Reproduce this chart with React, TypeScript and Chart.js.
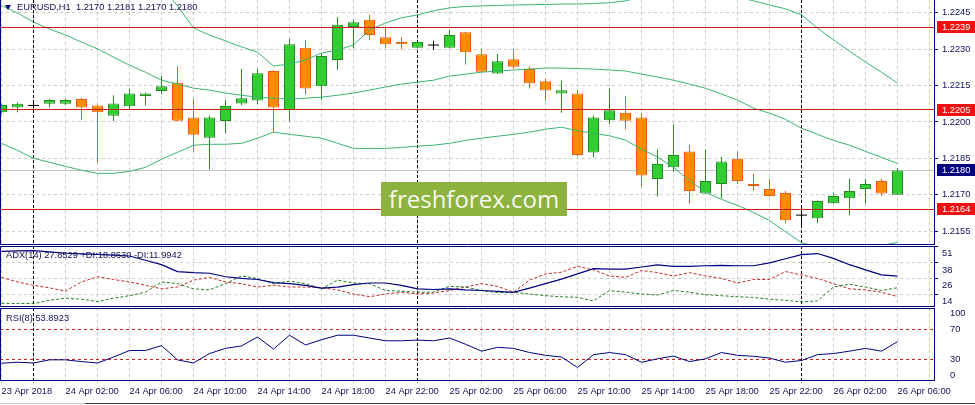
import React, { useEffect, useRef } from "react";
import { Chart, registerables } from "chart.js";

Chart.register(...registerables);

// ---------------- data ----------------
const TIME_LABELS = [
  "23 Apr 2018", "24 Apr 02:00", "24 Apr 06:00", "24 Apr 10:00", "24 Apr 14:00",
  "24 Apr 18:00", "24 Apr 22:00", "25 Apr 02:00", "25 Apr 06:00", "25 Apr 10:00",
  "25 Apr 14:00", "25 Apr 18:00", "25 Apr 22:00", "26 Apr 02:00", "26 Apr 06:00",
];

const OPEN = [
  1.22040, 1.22060, 1.22068, 1.22075, 1.22075, 1.22095, 1.22068, 1.22026, 1.22065, 1.22107,
  1.22128, 1.22161, 1.22018, 1.21935, 1.22004, 1.22076, 1.22088, 1.22210, 1.22048, 1.22306,
  1.22147, 1.22255, 1.22391, 1.22421, 1.22349, 1.22329, 1.22306, 1.22317, 1.22306, 1.22370,
  1.22279, 1.22200, 1.22258, 1.22218, 1.22168, 1.22117, 1.22117, 1.21874, 1.22007, 1.22038,
  1.22018, 1.21765, 1.21813, 1.21878, 1.21705, 1.21744, 1.21848, 1.21744, 1.21724, 1.21707,
  1.21616, 1.21603, 1.21665, 1.21686, 1.21724, 1.21757, 1.21700,
];
const HIGH = [
  1.22075, 1.22080, 1.22082, 1.22095, 1.22095, 1.22100, 1.22072, 1.22110, 1.22138, 1.22120,
  1.22189, 1.22230, 1.22096, 1.22027, 1.22090, 1.22218, 1.22217, 1.22213, 1.22342, 1.22338,
  1.22283, 1.22432, 1.22421, 1.22442, 1.22393, 1.22349, 1.22333, 1.22335, 1.22380, 1.22372,
  1.22300, 1.22280, 1.22300, 1.22230, 1.22179, 1.22170, 1.22134, 1.22027, 1.22138, 1.22107,
  1.22037, 1.21886, 1.21990, 1.21906, 1.21886, 1.21856, 1.21878, 1.21787, 1.21766, 1.21715,
  1.21657, 1.21676, 1.21708, 1.21766, 1.21766, 1.21766, 1.21810,
];
const LOW = [
  1.22035, 1.22040, 1.22055, 1.22060, 1.22070, 1.22007, 1.21834, 1.22004, 1.22053, 1.22068,
  1.22113, 1.22002, 1.21875, 1.21804, 1.21954, 1.22070, 1.22073, 1.21958, 1.22004, 1.22113,
  1.22090, 1.22214, 1.22304, 1.22338, 1.22306, 1.22300, 1.22303, 1.22297, 1.22304, 1.22237,
  1.22205, 1.22198, 1.22218, 1.22138, 1.22087, 1.22038, 1.21860, 1.21854, 1.21990, 1.21970,
  1.21734, 1.21693, 1.21795, 1.21665, 1.21705, 1.21686, 1.21744, 1.21715, 1.21693, 1.21583,
  1.21574, 1.21583, 1.21663, 1.21616, 1.21664, 1.21695, 1.21700,
];
const CLOSE = [
  1.22070, 1.22075, 1.22068, 1.22090, 1.22090, 1.22060, 1.22040, 1.22076, 1.22117, 1.22117,
  1.22147, 1.22005, 1.21947, 1.22018, 1.22066, 1.22098, 1.22201, 1.22059, 1.22320, 1.22138,
  1.22272, 1.22400, 1.22411, 1.22358, 1.22320, 1.22320, 1.22329, 1.22317, 1.22358, 1.22287,
  1.22207, 1.22250, 1.22227, 1.22159, 1.22130, 1.22131, 1.21864, 1.22018, 1.22048, 1.22005,
  1.21779, 1.21827, 1.21864, 1.21715, 1.21757, 1.21837, 1.21757, 1.21736, 1.21695, 1.21595,
  1.21616, 1.21674, 1.21695, 1.21715, 1.21744, 1.21705, 1.21800,
];

const BB_UPPER = [
  1.23048, 1.23015, 1.22974, 1.22932, 1.22899, 1.22857, 1.22814, 1.22746, 1.22672, 1.22597,
  1.22560, 1.22478, 1.22387, 1.22358, 1.22334, 1.22309, 1.22288, 1.22230, 1.22239, 1.22255,
  1.22284, 1.22296, 1.22317, 1.22379, 1.22408, 1.22429, 1.22441, 1.22458, 1.22470, 1.22476,
  1.22478, 1.22480, 1.22482, 1.22483, 1.22484, 1.22486, 1.22486, 1.22488, 1.22491, 1.22499,
  1.22515, 1.22536, 1.22544, 1.22544, 1.22540, 1.22532, 1.22515, 1.22499, 1.22482, 1.22466,
  1.22441, 1.22387, 1.22338, 1.22292, 1.22247, 1.22205, 1.22160,
];
const BB_MIDDLE = [
  1.22480, 1.22449, 1.22412, 1.22383, 1.22358, 1.22329, 1.22301, 1.22267, 1.22234, 1.22205,
  1.22172, 1.22156, 1.22139, 1.22131, 1.22119, 1.22110, 1.22102, 1.22098, 1.22094, 1.22098,
  1.22102, 1.22110, 1.22119, 1.22131, 1.22144, 1.22156, 1.22164, 1.22172, 1.22189, 1.22197,
  1.22205, 1.22210, 1.22214, 1.22218, 1.22222, 1.22222, 1.22220, 1.22218, 1.22214, 1.22210,
  1.22197, 1.22185, 1.22172, 1.22156, 1.22139, 1.22115, 1.22090, 1.22057, 1.22036, 1.22011,
  1.21974, 1.21949, 1.21924, 1.21904, 1.21879, 1.21854, 1.21829,
];
const BB_LOWER = [
  1.21912, 1.21883, 1.21850, 1.21834, 1.21817, 1.21801, 1.21788, 1.21788, 1.21796, 1.21813,
  1.21846, 1.21875, 1.21904, 1.21908, 1.21908, 1.21912, 1.21933, 1.21958, 1.21949, 1.21941,
  1.21933, 1.21912, 1.21891, 1.21891, 1.21891, 1.21895, 1.21900, 1.21904, 1.21912, 1.21924,
  1.21933, 1.21941, 1.21949, 1.21958, 1.21970, 1.21978, 1.21964, 1.21953, 1.21943, 1.21925,
  1.21888, 1.21855, 1.21813, 1.21759, 1.21710, 1.21681, 1.21656, 1.21627, 1.21594, 1.21548,
  1.21502, 1.21485, 1.21475, 1.21470, 1.21475, 1.21490, 1.21504,
];

const ADX = [
  46.8, 47.2, 47.5, 46.5, 45.4, 45.0, 44.6, 44.0, 43.3, 40.0,
  36.6, 31.3, 30.5, 30.0, 27.3, 26.0, 25.2, 22.8, 22.0, 20.7,
  18.5, 19.3, 21.2, 22.5, 22.5, 20.7, 18.0, 17.5, 18.0, 17.2,
  16.7, 16.1, 15.3, 18.6, 22.0, 25.5, 29.5, 33.5, 33.2, 33.2,
  34.8, 36.4, 35.3, 35.3, 35.8, 36.1, 35.8, 35.8, 38.0, 41.2,
  44.4, 45.2, 41.5, 36.6, 32.6, 28.7, 27.85,
];
const PLUS_DI = [
  6.85, 6.7, 6.6, 9.2, 10.8, 10.0, 8.2, 10.8, 12.7, 15.4,
  23.3, 22.0, 18.0, 17.2, 22.0, 27.9, 26.0, 22.0, 23.9, 22.0,
  18.0, 24.7, 22.5, 22.0, 16.7, 16.2, 15.4, 15.4, 19.9, 19.4,
  16.7, 15.1, 15.4, 14.0, 12.7, 11.9, 11.4, 8.7, 16.7, 15.4,
  14.0, 13.2, 16.7, 15.4, 13.5, 12.7, 11.9, 11.4, 10.0, 9.2,
  7.9, 8.7, 19.4, 21.5, 19.4, 16.7, 18.86,
];
const MINUS_DI = [
  26.8, 23.3, 20.7, 18.8, 16.2, 23.3, 27.3, 25.2, 23.3, 20.7,
  18.0, 19.4, 24.7, 26.8, 23.3, 22.0, 19.4, 20.7, 19.4, 19.4,
  18.8, 17.2, 14.0, 11.9, 14.0, 15.4, 14.0, 14.8, 16.7, 19.4,
  22.0, 19.9, 15.4, 24.7, 29.5, 30.8, 35.3, 32.6, 27.9, 26.8,
  32.1, 30.5, 27.9, 30.5, 27.9, 26.0, 22.5, 25.2, 25.2, 31.3,
  28.7, 26.0, 22.0, 18.0, 17.2, 15.4, 12.0,
];
const RSI = [
  24.3, 25.7, 24.7, 29.0, 29.0, 26.6, 24.7, 32.8, 41.8, 41.8,
  48.5, 29.0, 24.7, 37.6, 44.7, 48.0, 60.3, 43.7, 62.7, 49.4,
  56.5, 62.7, 62.7, 58.9, 55.1, 55.1, 56.1, 55.1, 58.9, 50.4,
  40.9, 46.1, 44.7, 39.0, 35.2, 32.8, 18.6, 36.1, 39.0, 36.1,
  25.7, 30.4, 34.2, 26.6, 30.4, 39.0, 35.2, 33.8, 31.4, 25.7,
  28.1, 36.1, 37.6, 40.9, 44.7, 40.9, 53.9,
];

const PRICE_TICKS = [1.2155, 1.2170, 1.2185, 1.2200, 1.2215, 1.2230, 1.2245];
const RED_LEVELS = [1.2239, 1.2205, 1.2164];
const LAST_PRICE = 1.2180;
const ADX_TICKS = [51, 38, 26, 14];
const RSI_TICKS = [100, 70, 30, 0];
const RSI_LEVELS = [70, 30];
const SEPARATOR_BARS = [2, 26, 50];
const BARS_PER_LABEL = 4;
const BARS_PER_GRID = 2;

// ---------------- view settings ----------------
const X_MIN = -0.09375;
const X_MAX = 58.34375;
const Y_MIN = 1.214929;
const Y_MAX = 1.225025;
const ADX_MIN = 4;
const ADX_MAX = 51;

const FONT = "'Liberation Sans', Arial, sans-serif";
const FONT_SIZE = 9.3;
const NAVY = "#000080";
const TEXT = "#10105a";
const GRID = "#cdcdcd";
const UP_FILL = "#32cd32";
const UP_LINE = "#228b22";
const DOWN_FILL = "#ff8c00";
const DOWN_LINE = "#ea5c14";
const BAND = "#3cb371";
const RED_LINE = "#d01818";
const RSI_LEVEL = "#d02020";
const RED_BOX = "#ee1111";
const LAST_LINE = "#c4c4c4";

const IDX = OPEN.map((_, i) => i);
const isDoji = (i: number) => OPEN[i] === CLOSE[i];
const isUp = (i: number) => CLOSE[i] > OPEN[i];
const BODY_IDX = IDX.filter((i) => !isDoji(i));
const DOJI_IDX = IDX.filter((i) => isDoji(i));
const GRID_BARS: number[] = [];
for (let b = 0; b <= X_MAX; b += BARS_PER_GRID) GRID_BARS.push(b);

const series = (arr: number[]) => arr.map((y, x) => ({ x, y }));

// ---------------- plugins ----------------
const separatorsPlugin = {
  id: "separators",
  beforeDatasetsDraw(chart: any) {
    const { ctx, chartArea: a, scales } = chart;
    ctx.save();
    ctx.strokeStyle = "#000";
    ctx.lineWidth = 1;
    ctx.setLineDash([3, 2]);
    for (const b of SEPARATOR_BARS) {
      const px = Math.round(scales.x.getPixelForValue(b) - 0.5) + 0.5;
      ctx.beginPath();
      ctx.moveTo(px, a.top);
      ctx.lineTo(px, a.bottom);
      ctx.stroke();
    }
    ctx.restore();
  },
};

const makeFrame = (top: boolean) => ({
  id: "frame",
  afterDraw(chart: any) {
    const { ctx, chartArea: a } = chart;
    ctx.save();
    ctx.strokeStyle = NAVY;
    ctx.lineWidth = 1;
    ctx.setLineDash([]);
    ctx.beginPath();
    ctx.moveTo(a.left + 0.5, a.top);
    ctx.lineTo(a.left + 0.5, a.bottom);
    ctx.moveTo(a.right - 0.5, a.top);
    ctx.lineTo(a.right - 0.5, a.bottom);
    ctx.moveTo(a.left, a.bottom - 0.5);
    ctx.lineTo(a.right, a.bottom - 0.5);
    if (top) {
      ctx.moveTo(a.left, a.top + 0.5);
      ctx.lineTo(a.right, a.top + 0.5);
    }
    ctx.stroke();
    ctx.restore();
  },
});

const hLine = (ctx: any, a: any, y: number) => {
  const py = Math.round(y - 0.5) + 0.5;
  ctx.beginPath();
  ctx.moveTo(a.left, py);
  ctx.lineTo(a.right, py);
  ctx.stroke();
};

const priceLevelsPlugin = {
  id: "priceLevels",
  beforeDatasetsDraw(chart: any) {
    const { ctx, chartArea: a, scales } = chart;
    ctx.save();
    ctx.setLineDash([]);
    ctx.strokeStyle = LAST_LINE;
    ctx.lineWidth = 1;
    hLine(ctx, a, scales.y.getPixelForValue(LAST_PRICE));
    ctx.restore();
  },
  afterDatasetsDraw(chart: any) {
    const { ctx, chartArea: a, scales } = chart;
    ctx.save();
    ctx.setLineDash([]);
    ctx.strokeStyle = RED_LINE;
    ctx.lineWidth = 1;
    for (const v of RED_LEVELS) hLine(ctx, a, scales.y.getPixelForValue(v));
    ctx.restore();
  },
  afterDraw(chart: any) {
    const { ctx, chartArea: a, scales, width } = chart;
    const boxes = [
      ...RED_LEVELS.map((v) => ({ v, bg: RED_BOX })),
      { v: LAST_PRICE, bg: NAVY },
    ];
    ctx.save();
    ctx.font = `${FONT_SIZE}px ${FONT}`;
    ctx.textBaseline = "middle";
    ctx.textAlign = "left";
    for (const b of boxes) {
      const y = scales.y.getPixelForValue(b.v);
      const top = Math.round(y) - 6;
      ctx.fillStyle = b.bg;
      ctx.fillRect(a.right + 2, top, width - a.right - 2, 12);
      ctx.fillStyle = "#ffffff";
      ctx.fillText(b.v.toFixed(4), a.right + 7, top + 6.5);
    }
    ctx.restore();
  },
};

const rsiLevelsPlugin = {
  id: "rsiLevels",
  beforeDatasetsDraw(chart: any) {
    const { ctx, chartArea: a, scales } = chart;
    ctx.save();
    ctx.strokeStyle = RSI_LEVEL;
    ctx.lineWidth = 1;
    ctx.setLineDash([3, 3]);
    for (const v of RSI_LEVELS) hLine(ctx, a, scales.y.getPixelForValue(v));
    ctx.restore();
  },
};

// ---------------- shared scale configs ----------------
const xAxis = (withLabels: boolean) => ({
  type: "linear",
  min: X_MIN,
  max: X_MAX,
  offset: false,
  bounds: "data",
  afterBuildTicks: (s: any) => {
    s.ticks = GRID_BARS.map((value) => ({ value }));
  },
  afterFit: (s: any) => {
    s.height = withLabels ? 24 : 0;
    s.paddingLeft = 0;
    s.paddingRight = 0;
  },
  grid: {
    color: GRID,
    offset: false,
    drawTicks: withLabels,
    tickLength: 3,
    tickColor: GRID,
  },
  border: { display: false, dash: [3, 3] },
  ticks: withLabels
    ? {
        display: true,
        autoSkip: false,
        maxRotation: 0,
        align: "start",
        padding: 2,
        color: TEXT,
        font: { family: FONT, size: FONT_SIZE },
        callback: (v: number) =>
          v % BARS_PER_LABEL === 0 ? TIME_LABELS[v / BARS_PER_LABEL] ?? "" : "",
      }
    : { display: false },
});

const yFit = (s: any) => {
  s.width = 40;
  s.paddingTop = 0;
  s.paddingBottom = 0;
};

const baseOptions = {
  animation: false,
  responsive: false,
  maintainAspectRatio: false,
  devicePixelRatio: 1,
  events: [],
  layout: { padding: 0, autoPadding: false },
  plugins: { legend: { display: false }, tooltip: { enabled: false } },
};

export default function App() {
  const mainRef = useRef<HTMLCanvasElement>(null);
  const adxRef = useRef<HTMLCanvasElement>(null);
  const rsiRef = useRef<HTMLCanvasElement>(null);

  useEffect(() => {
    Chart.defaults.font.family = FONT;

    const candleColor = (i: number) => (isUp(i) ? UP_LINE : DOWN_LINE);

    const main = new Chart(mainRef.current as HTMLCanvasElement, {
      type: "bar",
      data: {
        datasets: [
          {
            type: "line",
            label: "Upper band",
            order: 0,
            data: series(BB_UPPER),
            borderColor: BAND,
            borderWidth: 1,
            pointRadius: 0,
            tension: 0,
          },
          {
            type: "line",
            label: "Middle band",
            order: 0,
            data: series(BB_MIDDLE),
            borderColor: BAND,
            borderWidth: 1,
            pointRadius: 0,
            tension: 0,
          },
          {
            type: "line",
            label: "Lower band",
            order: 0,
            data: series(BB_LOWER),
            borderColor: BAND,
            borderWidth: 1,
            pointRadius: 0,
            tension: 0,
          },
          {
            type: "line",
            label: "Doji",
            order: 1,
            showLine: false,
            data: DOJI_IDX.map((i) => ({ x: i, y: CLOSE[i] })),
            pointStyle: "line",
            pointRadius: 5.5,
            pointBorderColor: "#000",
            pointBackgroundColor: "#000",
            pointBorderWidth: 1,
          },
          {
            type: "bar",
            label: "Bodies",
            order: 2,
            grouped: false,
            data: BODY_IDX.map((i) => ({ x: i, y: [OPEN[i], CLOSE[i]] })),
            backgroundColor: BODY_IDX.map((i) => (isUp(i) ? UP_FILL : DOWN_FILL)),
            borderColor: BODY_IDX.map(candleColor),
            borderWidth: 1,
            borderSkipped: false,
            barThickness: 11,
            inflateAmount: 0,
          },
          {
            type: "bar",
            label: "Wicks",
            order: 3,
            grouped: false,
            data: IDX.map((i) => ({ x: i, y: [LOW[i], HIGH[i]] })),
            backgroundColor: IDX.map((i) => (isDoji(i) ? "#000" : candleColor(i))),
            borderWidth: 0,
            barThickness: 1,
            inflateAmount: 0,
          },
        ],
      },
      options: {
        ...baseOptions,
        scales: {
          x: xAxis(false),
          y: {
            type: "linear",
            position: "right",
            min: Y_MIN,
            max: Y_MAX,
            afterBuildTicks: (s: any) => {
              s.ticks = PRICE_TICKS.map((value) => ({ value }));
            },
            afterFit: yFit,
            grid: { color: GRID, tickColor: NAVY, tickLength: 3, tickBorderDash: [] },
            border: { display: false, dash: [3, 3] },
            ticks: {
              autoSkip: false,
              color: TEXT,
              padding: 4,
              font: { family: FONT, size: FONT_SIZE },
              callback: (v: number) => Number(v).toFixed(4),
            },
          },
        },
      } as any,
      plugins: [separatorsPlugin, priceLevelsPlugin, makeFrame(false)],
    } as any);

    const adx = new Chart(adxRef.current as HTMLCanvasElement, {
      type: "line",
      data: {
        datasets: [
          {
            label: "ADX",
            order: 0,
            data: series(ADX),
            borderColor: NAVY,
            borderWidth: 1.2,
            pointRadius: 0,
          },
          {
            label: "+DI",
            order: 1,
            data: series(PLUS_DI),
            borderColor: "#1f7f1f",
            borderWidth: 1,
            borderDash: [3, 2],
            pointRadius: 0,
          },
          {
            label: "-DI",
            order: 2,
            data: series(MINUS_DI),
            borderColor: "#c82828",
            borderWidth: 1,
            borderDash: [3, 2],
            pointRadius: 0,
          },
        ],
      },
      options: {
        ...baseOptions,
        scales: {
          x: xAxis(false),
          y: {
            type: "linear",
            position: "right",
            min: ADX_MIN,
            max: ADX_MAX,
            afterBuildTicks: (s: any) => {
              s.ticks = ADX_TICKS.map((value) => ({ value }));
            },
            afterFit: yFit,
            grid: { color: GRID, tickColor: NAVY, tickLength: 3, tickBorderDash: [] },
            border: { display: false, dash: [3, 3] },
            ticks: {
              autoSkip: false,
              align: "start",
              labelOffset: 2.5,
              color: TEXT,
              padding: 4,
              font: { family: FONT, size: FONT_SIZE },
              callback: (v: number) => String(v),
            },
          },
        },
      } as any,
      plugins: [separatorsPlugin, makeFrame(true)],
    } as any);

    const rsi = new Chart(rsiRef.current as HTMLCanvasElement, {
      type: "line",
      data: {
        datasets: [
          {
            label: "RSI",
            data: series(RSI),
            borderColor: NAVY,
            borderWidth: 1,
            pointRadius: 0,
          },
        ],
      },
      options: {
        ...baseOptions,
        scales: {
          x: xAxis(true),
          y: {
            type: "linear",
            position: "right",
            min: 0,
            max: 100,
            afterBuildTicks: (s: any) => {
              s.ticks = RSI_TICKS.map((value) => ({ value }));
            },
            afterFit: yFit,
            grid: { display: false },
            border: { display: false },
            ticks: {
              autoSkip: false,
              color: TEXT,
              padding: 7,
              font: { family: FONT, size: FONT_SIZE },
              callback: (v: number) =>
                v === 100 ? ["", "100"] : v === 0 ? ["0", ""] : String(v),
            },
          },
        },
      } as any,
      plugins: [separatorsPlugin, rsiLevelsPlugin, makeFrame(true)],
    } as any);

    return () => {
      main.destroy();
      adx.destroy();
      rsi.destroy();
    };
  }, []);

  const textStyle: React.CSSProperties = {
    position: "absolute",
    fontFamily: FONT,
    fontSize: `${FONT_SIZE}px`,
    lineHeight: "11px",
    color: TEXT,
    whiteSpace: "pre",
  };

  return (
    <div
      style={{
        position: "fixed",
        left: 0,
        top: 0,
        width: 975,
        height: 405,
        background: "#ffffff",
        overflow: "hidden",
      }}
    >
      <canvas ref={mainRef} width={975} height={245} style={{ position: "absolute", left: 0, top: 0 }} />
      <canvas ref={adxRef} width={975} height={61} style={{ position: "absolute", left: 0, top: 246 }} />
      <canvas ref={rsiRef} width={975} height={97} style={{ position: "absolute", left: 0, top: 308 }} />

      <div
        style={{
          position: "absolute",
          left: 5,
          top: 5,
          width: 0,
          height: 0,
          borderLeft: "3.5px solid transparent",
          borderRight: "3.5px solid transparent",
          borderTop: `5px solid ${NAVY}`,
        }}
      />
      <div style={{ ...textStyle, left: 17, top: 1.5 }}>EURUSD,H1  1.2170 1.2181 1.2170 1.2180</div>
      <div style={{ ...textStyle, left: 6, top: 249.5 }}>ADX(14) 27.8529 +DI:18.8630 -DI:11.9942</div>
      <div style={{ ...textStyle, left: 6, top: 312.5 }}>RSI(8) 53.8923</div>

      <div
        style={{
          position: "absolute",
          left: 381,
          top: 182,
          width: 186,
          height: 34,
          background: "#8db33e",
          color: "#f7f7ee",
          fontFamily: "'Open Sans', 'Noto Sans', sans-serif",
          fontSize: "24px",
          lineHeight: "34px",
          textAlign: "center",
          whiteSpace: "nowrap",
        }}
      >
        freshforex.com
      </div>

      <div style={{ position: "absolute", left: 0, top: 403, width: 85, height: 1, background: "#c8c8c8" }} />
      <div style={{ position: "absolute", left: 85, top: 403, width: 890, height: 1, background: "#3a3a3a" }} />
    </div>
  );
}
